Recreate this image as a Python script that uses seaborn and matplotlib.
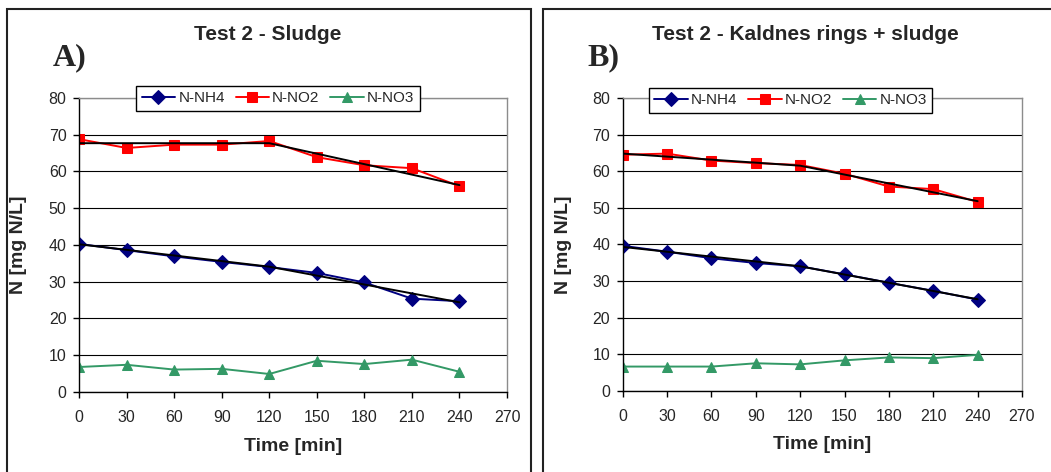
import numpy as np
import pandas as pd
import matplotlib
matplotlib.use('Agg')
import matplotlib.pyplot as plt
import seaborn as sns
from matplotlib.patches import Rectangle

time = [0, 30, 60, 90, 120, 150, 180, 210, 240]
trend_time = [0, 120, 240]

# A) Test 2 - Sludge
a_nh4 = [40.3, 38.6, 36.9, 35.4, 34.0, 32.4, 29.8, 25.4, 24.7]
a_no2 = [68.8, 66.4, 67.3, 67.3, 68.3, 63.9, 61.7, 60.9, 56.0]
a_no3 = [6.8, 7.4, 6.1, 6.3, 4.9, 8.5, 7.6, 8.8, 5.5]
a_nh4_trend = [40.2, 34.1, 24.4]
a_no2_trend = [67.7, 67.7, 56.3]

# B) Test 2 - Kaldnes rings + sludge
b_nh4 = [39.6, 38.0, 36.2, 34.9, 34.0, 31.8, 29.5, 27.3, 24.9]
b_no2 = [64.5, 64.8, 62.9, 62.2, 61.7, 59.3, 55.8, 55.1, 51.6]
b_no3 = [6.6, 6.6, 6.6, 7.5, 7.2, 8.3, 9.1, 8.9, 9.8]
b_nh4_trend = [39.3, 34.0, 25.0]
b_no2_trend = [64.8, 61.5, 51.8]

series_names = ['N-NH4', 'N-NO2', 'N-NO3']
colors = ['#000080', '#FF0000', '#339966']
markers = ['D', 's', '^']

sns.set_style('white')
plt.rcParams['font.family'] = ['Liberation Sans', 'DejaVu Sans']

fig = plt.figure(figsize=(10.51, 4.72), dpi=100)

# panel frames (bottom edge is cut off in the original)
fig.patches.append(Rectangle((0.0067, -0.05), 0.4985, 1.031, transform=fig.transFigure,
                             fill=False, edgecolor='#222222', lw=1.5))
fig.patches.append(Rectangle((0.5167, -0.05), 0.55, 1.031, transform=fig.transFigure,
                             fill=False, edgecolor='#222222', lw=1.5))

panels = [
    dict(pos=[0.0752, 0.1695, 0.4072, 0.6229], data=[a_nh4, a_no2, a_no3],
         trends=[a_nh4_trend, a_no2_trend], title='Test 2 - Sludge', letter='A)',
         title_xy=(0.255, 0.927), letter_xy=(0.066, 0.877), leg_xy=(0.2645, 0.7914),
         ylab_x=-0.121),
    dict(pos=[0.5925, 0.1722, 0.3799, 0.6202], data=[b_nh4, b_no2, b_no3],
         trends=[b_nh4_trend, b_no2_trend], title='Test 2 - Kaldnes rings + sludge', letter='B)',
         title_xy=(0.766, 0.927), letter_xy=(0.574, 0.877), leg_xy=(0.7521, 0.7872),
         ylab_x=-0.127),
]

for p in panels:
    ax = fig.add_axes(p['pos'])
    for name, vals, c, m in zip(series_names, p['data'], colors, markers):
        df = pd.DataFrame({'Time': time, 'N': vals})
        sns.lineplot(data=df, x='Time', y='N', ax=ax, color=c, marker=m, markersize=7,
                     markeredgecolor=c, lw=1.4, label=name)
    for tr in p['trends']:
        sns.lineplot(x=trend_time, y=tr, ax=ax, color='black', lw=1.4, legend=False)

    ax.set_xlim(0, 270)
    ax.set_ylim(0, 80)
    ax.set_xticks(range(0, 271, 30))
    ax.set_yticks(range(0, 81, 10))
    ax.yaxis.grid(True, color='black', lw=0.8)
    ax.set_axisbelow(True)
    for s in ['top', 'right']:
        ax.spines[s].set_color('#8c8c8c')
        ax.spines[s].set_linewidth(1)
    for s in ['left', 'bottom']:
        ax.spines[s].set_color('black')
        ax.spines[s].set_linewidth(1)
    ax.tick_params(axis='both', labelsize=11.5, length=4, width=1, color='black', direction='out',
                   left=True, bottom=True)
    ax.tick_params(axis='x', pad=9)
    ax.tick_params(axis='y', pad=5)
    ax.set_xlabel('Time [min]', fontsize=14, fontweight='bold', labelpad=9)
    ax.set_ylabel('N [mg N/L]', fontsize=14, fontweight='bold')
    ax.yaxis.set_label_coords(p['ylab_x'], 0.5)

    leg = ax.legend(loc='center', bbox_to_anchor=p['leg_xy'], bbox_transform=fig.transFigure,
                    ncol=3, fontsize=11, frameon=True, fancybox=False, framealpha=1,
                    edgecolor='black', handlelength=2.2, handletextpad=0.2, columnspacing=0.7,
                    borderpad=0.35, numpoints=1)
    leg.get_frame().set_linewidth(1)

    fig.text(*p['title_xy'], p['title'], ha='center', va='center', fontsize=15, fontweight='bold')
    fig.text(*p['letter_xy'], p['letter'], ha='center', va='center', fontsize=23, fontweight='bold',
             family='Liberation Serif')

fig.savefig('out.png', dpi=100)
